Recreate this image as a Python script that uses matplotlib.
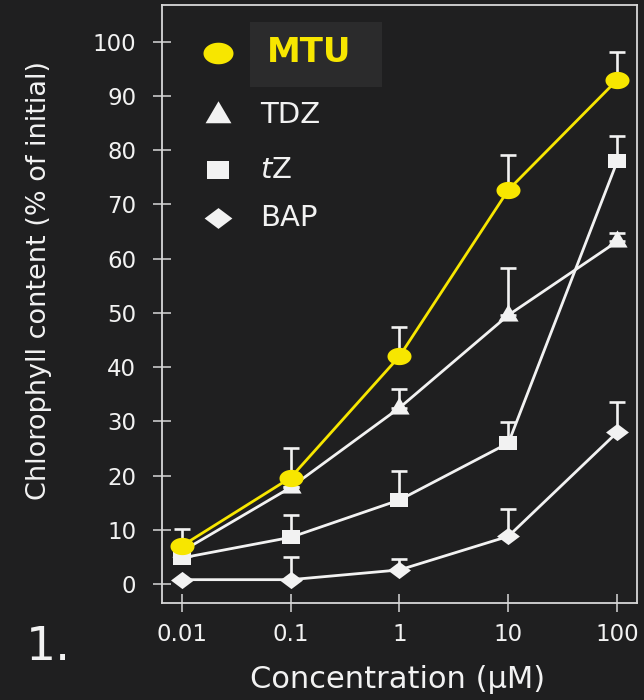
import numpy as np
import matplotlib.pyplot as plt
from matplotlib.path import Path
from matplotlib.patches import Rectangle

# concentrations (uM) and chlorophyll content (% of initial), upper error only
conc = [0.01, 0.1, 1, 10, 100]
mtu = [7.0, 19.6, 42.0, 72.7, 93.0]
mtu_err = [3.2, 5.4, 5.4, 6.5, 5.2]
tdz = [6.0, 17.8, 32.5, 49.6, 63.2]
tdz_err = [0.0, 0.0, 3.5, 8.7, 1.6]
tz = [4.8, 8.6, 15.5, 26.0, 78.0]
tz_err = [0.0, 4.2, 5.3, 3.9, 4.7]
bap = [0.8, 0.8, 2.6, 8.8, 28.0]
bap_err = [0.0, 4.2, 2.0, 5.0, 5.6]

yticks = [0, 10, 20, 30, 40, 50, 60, 70, 80, 90, 100]
xticks = [0.01, 0.1, 1, 10, 100]
xticklabels = ["0.01", "0.1", "1", "10", "100"]

bg = "#1f1f20"
fg = "#f2f2f2"
yellow = "#f7e600"

# the original figure is a bit stretched sideways, so markers are too
t = np.linspace(0, 2*np.pi, 60)
ellipse = Path(np.column_stack([np.cos(t), 0.72*np.sin(t)]), closed=True)
square = Path([(-1, -0.83), (1, -0.83), (1, 0.83), (-1, 0.83), (-1, -0.83)], closed=True)
tri = Path([(-1, -0.6), (1, -0.6), (0, 1.1), (-1, -0.6)], closed=True)
diamond = Path([(-1, 0), (0, -0.75), (1, 0), (0, 0.75), (-1, 0)], closed=True)

fig = plt.figure(figsize=(6.44, 7.0), dpi=100, facecolor=bg)
ax = fig.add_axes([0.2516, 0.1386, 0.7374, 0.8543], facecolor=bg)

series = [
    (bap, bap_err, diamond, 16.5, fg),
    (tz, tz_err, square, 13, fg),
    (tdz, tdz_err, tri, 16, fg),
    (mtu, mtu_err, ellipse, 17.3, yellow),
]
for vals, err, mk, ms, col in series:
    ax.errorbar(conc, vals, yerr=[np.zeros(len(err)), err], fmt="none",
                ecolor=fg, elinewidth=1.9, capsize=6, capthick=1.9, zorder=2)
    ax.plot(conc, vals, color=col, lw=2.0, zorder=3)
    ax.plot(conc, vals, linestyle="none", marker=mk, ms=ms, color=col,
            markeredgewidth=0, zorder=4)

ax.set_xscale("log")
ax.set_xlim(10**-2.18, 10**2.18)
ax.set_ylim(-3.5, 106.8)
ax.set_xticks(xticks)
ax.set_xticklabels(xticklabels)
ax.minorticks_off()
ax.set_yticks(yticks)

for s in ax.spines.values():
    s.set_color("#d8d8d8")
    s.set_linewidth(1.3)
ax.tick_params(direction="inout", length=13, width=1.1, color="#d8d8d8",
               labelcolor=fg, labelsize=16.5, pad=12)
ax.tick_params(axis="x", pad=8)

ax.set_ylabel("Chlorophyll content (% of initial)", color=fg, fontsize=19.5)
ax.yaxis.set_label_coords(-0.232, 0.54)
ax.set_xlabel("Concentration (\u03bcM)", color=fg, fontsize=22)
ax.xaxis.set_label_coords(0.497, -0.103)

# legend drawn by hand
tr = ax.transAxes
ax.add_patch(Rectangle((0.185, 0.863), 0.278, 0.109, transform=tr,
                       facecolor="#2b2b2c", edgecolor="none", zorder=1))
leg = [
    (0.920, ellipse, 21.6, yellow, "MTU"),
    (0.816, tri, 20.5, fg, "TDZ"),
    (0.724, square, 15.8, fg, "$\\it{t}$Z"),
    (0.644, diamond, 20, fg, "BAP"),
]
for y, mk, ms, col, lab in leg:
    ax.plot([0.118], [y], marker=mk, ms=ms, color=col, markeredgewidth=0,
            transform=tr, clip_on=False)
    if lab == "MTU":
        ax.text(0.221, y, lab, color=yellow, fontsize=24.5, fontweight="bold",
                va="center", ha="left", transform=tr, zorder=5)
    else:
        ax.text(0.206, y, lab, color=fg, fontsize=21, va="center", ha="left",
                transform=tr)

fig.text(0.04, 0.075, "1.", color=fg, fontsize=34, ha="left", va="center")

fig.savefig("out.png", dpi=100, facecolor=bg)
